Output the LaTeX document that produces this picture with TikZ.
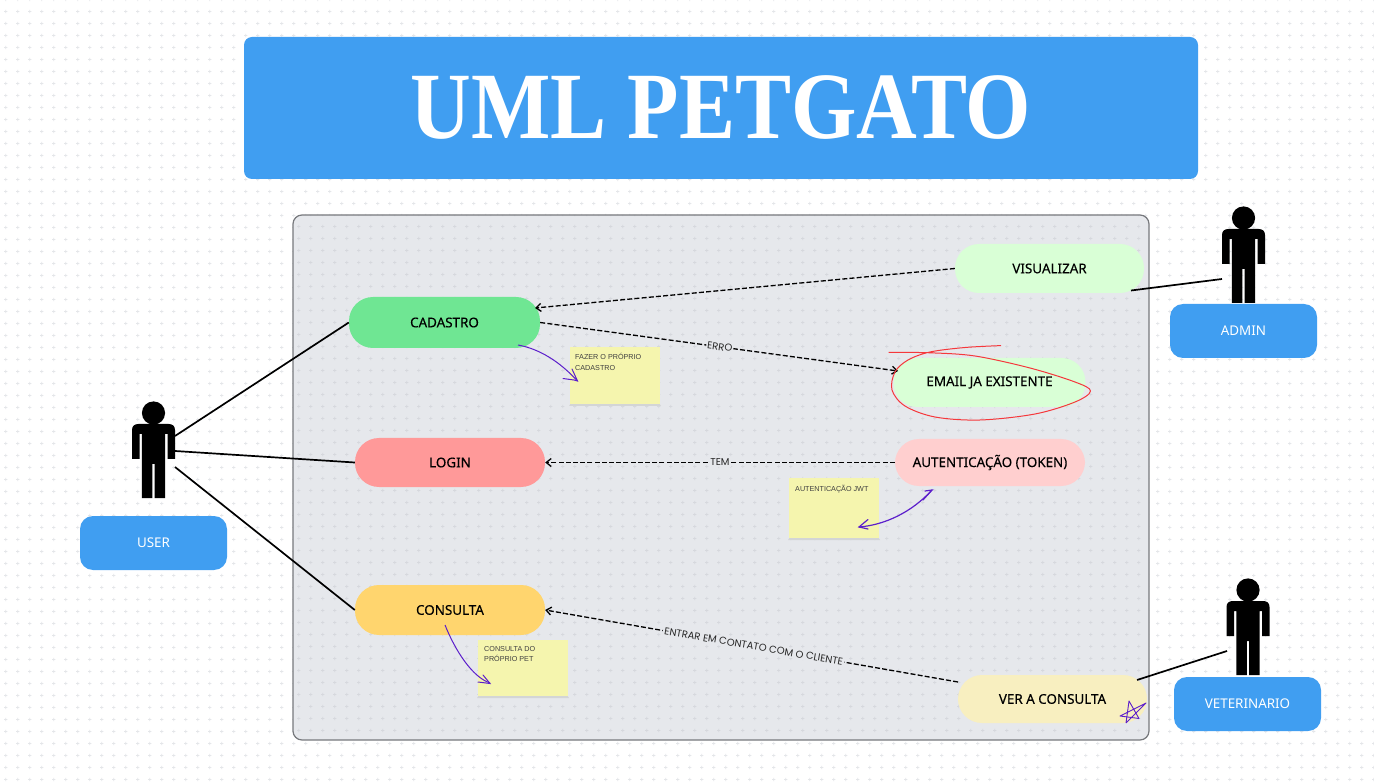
\documentclass[tikz,border=0pt]{standalone}
\usepackage{fontspec}
\setmainfont{Noto Sans}
\newfontfamily\titlefont{Liberation Serif}
\newfontfamily\notefont{Liberation Sans}
\newfontfamily\edgefont{Poppins}
\usetikzlibrary{arrows.meta,patterns}
\pgfdeclarepatternformonly{plusgrid}{\pgfqpoint{0pt}{0pt}}{\pgfqpoint{12.21pt}{12.2pt}}{\pgfqpoint{12.21pt}{12.2pt}}{%
  \pgfsetlinewidth{.8pt}%
  \pgfpathmoveto{\pgfqpoint{5.5pt}{4.8pt}}\pgfpathlineto{\pgfqpoint{8.9pt}{4.8pt}}%
  \pgfpathmoveto{\pgfqpoint{7.2pt}{3.1pt}}\pgfpathlineto{\pgfqpoint{7.2pt}{6.5pt}}%
  \pgfusepath{stroke}}
\definecolor{bluebox}{HTML}{409EF1}
\definecolor{panelfill}{HTML}{E6E8EC}
\definecolor{panelline}{HTML}{77797D}
\definecolor{gridout}{HTML}{E4E6E9}
\definecolor{gridin}{HTML}{D6D8DD}
\definecolor{cgreen}{HTML}{D9FFD6}
\definecolor{cmint}{HTML}{6FE693}
\definecolor{cred}{HTML}{FF9999}
\definecolor{cpink}{HTML}{FFCFCF}
\definecolor{cyellow}{HTML}{FFD56E}
\definecolor{ccream}{HTML}{F8EFC0}
\definecolor{cnote}{HTML}{F5F5AE}
\definecolor{cshadow}{HTML}{D3D5D6}
\definecolor{cpurple}{HTML}{5C1FCB}
\definecolor{credline}{HTML}{F5383C}
\tikzset{
  x=1pt,y=-1pt,
  pill/.style={minimum width=#1,minimum height=49pt,inner sep=0pt,rounded corners=24pt,font=\fontsize{13.4}{15}\selectfont\addfontfeatures{FakeBold=0.25}},
  rolebox/.style={fill=bluebox,minimum width=147pt,minimum height=54pt,inner sep=0pt,rounded corners=13pt,text=white,font=\fontsize{13.4}{15}\selectfont\bfseries},
  stickynote/.style={fill=cnote,minimum width=90pt,inner sep=0pt,anchor=north west},
  notetext/.style={anchor=north west,align=left,inner sep=0pt,font=\notefont\fontsize{7.2}{10.2}\selectfont,text=black!75},
  actorline/.style={draw=black,line width=1.7pt},
  dashlink/.style={draw=black,line width=1.3pt,dash pattern=on 5pt off 2.2pt,-{Straight Barb[length=5pt,width=8pt,line width=1.3pt]}},
  edgelabel/.style={fill=panelfill,inner sep=1.5pt,font=\edgefont\fontsize{10}{12}\selectfont,text=black!85},
  inkarrow/.style={draw=cpurple,line width=1pt},
  actor/.pic={
    \fill[black] (0,0) circle[radius=11.6];
    \fill[black] (-21.5,46) -- (-21.5,17) .. controls (-21.5,13) and (-19,11) .. (-15,11)
      -- (15,11) .. controls (19,11) and (21.5,13) .. (21.5,17) -- (21.5,46) -- (14,46) -- (14,21)
      -- (11.6,21) -- (11.6,85) -- (1.2,85) -- (1.2,51) -- (-1.2,51) -- (-1.2,85) -- (-11.6,85)
      -- (-11.6,21) -- (-14,21) -- (-14,46) -- cycle;
  }
}
\begin{document}
\begin{tikzpicture}
\useasboundingbox (0,0) rectangle (1374,783);
\fill[white] (0,0) rectangle (1374,783);
\fill[pattern=plusgrid,pattern color=gridout] (0,0) rectangle (1374,783);

\node[fill=bluebox,minimum width=954pt,minimum height=142pt,rounded corners=8pt,inner sep=0pt] (title) at (721,108) {};
\node[text=white,inner sep=0pt,xscale=.885,font=\titlefont\fontsize{95}{95}\selectfont\bfseries] (titletext) at (721,108) {UML PETGATO};

\fill[panelfill,rounded corners=9pt] (293,215) rectangle (1149,740);
\fill[pattern=plusgrid,pattern color=gridin,rounded corners=9pt] (293,215) rectangle (1149,740);
\node[draw=panelline,line width=1.2pt,minimum width=856pt,minimum height=525pt,rounded corners=9pt,inner sep=0pt] (panel) at (721,477.5) {};

% use cases
\node[pill=189pt,fill=cgreen] (vis) at (1049.5,268.5) {VISUALIZAR};
\node[pill=191pt,fill=cmint,minimum height=51pt] (cad) at (444.5,322.5) {CADASTRO};
\node[pill=192pt,fill=cgreen] (email) at (989.5,382.5) {EMAIL JA EXISTENTE};
\node[pill=190pt,fill=cred] (login) at (450,462.5) {LOGIN};
\node[pill=190pt,fill=cpink,minimum height=47pt] (aut) at (990,462.5) {AUTENTICAÇÃO (TOKEN)};
\node[pill=190pt,fill=cyellow,minimum height=50pt] (cons) at (450,610) {CONSULTA};
\node[pill=189pt,fill=ccream,minimum height=48pt] (ver) at (1052.5,699) {VER A CONSULTA};

% sticky notes
\fill[cshadow] (571,403) -- (659,403) -- (661,406) -- (569,406) -- cycle;
\fill[cshadow] (790,537) -- (878,537) -- (880,540) -- (788,540) -- cycle;
\fill[cshadow] (479,695) -- (567,695) -- (569,698) -- (477,698) -- cycle;
\node[stickynote,minimum height=57pt] (noteA) at (570,347) {};
\node[stickynote,minimum height=60pt] (noteB) at (789,478) {};
\node[stickynote,minimum height=56pt] (noteC) at (478,640) {};
\node[notetext] (noteAt) at (575,353.5) {FAZER O PRÓPRIO\\CADASTRO};
\node[notetext] (noteBt) at (795,485) {AUTENTICAÇÃO JWT};
\node[notetext] (noteCt) at (484,646) {CONSULTA DO\\PRÓPRIO PET};

% actors
\pic (uactor) at (153.5,413) {actor};
\pic (aactor) at (1243.5,218) {actor};
\pic (vactor) at (1248,590) {actor};
\node[rolebox] (user) at (153.5,543) {USER};
\node[rolebox] (admin) at (1243.5,331) {ADMIN};
\node[rolebox] (vet) at (1247.5,704) {VETERINARIO};

% ports
\coordinate (uA) at (175,436);
\coordinate (uB) at (175,451);
\coordinate (uC) at (175,467);
\coordinate (aP) at (1222,279);
\coordinate (vP) at (1227,651);
\coordinate (visP) at (1131,290.5);
\coordinate (verP) at (1137,680);
\coordinate (cadIn) at (535,308);
\coordinate (emailIn) at (898,371);
\coordinate (verOut) at (958,682);
\coordinate (cadInk) at (518,345);
\coordinate (noteAink) at (577.5,381);
\coordinate (consInk) at (445,625);
\coordinate (noteCink) at (490,683);
\coordinate (autInk) at (932,490);
\coordinate (noteBink) at (859,527);

% solid connectors
\draw[actorline] (uA) -- (cad.west);
\draw[actorline] (uB) -- (login.west);
\draw[actorline] (uC) -- (cons.west);
\draw[actorline] (aP) -- (visP);
\draw[actorline] (vP) -- (verP);

% dashed connectors
\draw[dashlink] (vis.west) -- (cadIn);
\draw[dashlink] (cad.east) -- node[edgelabel,pos=.502,rotate=-7.8,inner sep=1pt] (lerro) {ERRO} (emailIn);
\draw[dashlink] (aut.west) -- node[edgelabel,pos=.5] (ltem) {TEM} (login.east);
\draw[dashlink] (verOut) -- node[edgelabel,pos=.495,rotate=-9.75] (lcontato) {ENTRAR EM CONTATO COM O CLIENTE} (cons.east);

% ink arrows
\draw[inkarrow] (cadInk) .. controls (540,349) and (560,362) .. (noteAink);
\draw[inkarrow,line cap=round] (563,378.5) -- (574,380) -- (noteAink) -- (572,369);
\draw[inkarrow] (consInk) .. controls (455,650) and (472,677) .. (noteCink);
\draw[inkarrow,line cap=round] (478,682) -- (490,683.5) -- (483,675);
\draw[inkarrow,line width=1.2pt] (noteBink) .. controls (885,525) and (912,512) .. (autInk);
\draw[inkarrow,line width=1.2pt,line cap=round] (868,519.5) -- (noteBink) -- (868,529);
\draw[inkarrow,line width=1.2pt,line cap=round] (925,491) -- (autInk) -- (923,500);

% star scribble
\draw[cpurple,line width=.9pt,line join=round] (1126,723) -- (1129,701) -- (1139,718.5) -- (1120,716) -- (1146,703) -- (1126,723);

% red scribble
\draw[credline,line width=1pt,line join=round] plot[smooth,tension=.55] coordinates {
 (888.5,352.3) (930,352.8) (975,356) (1030,368) (1075,382) (1090.5,391) (1075,402) (1035,414) (980,420)
 (935,417) (905,406) (892,390) (895,372) (908,360) (930,352) (965,347.5) (1001,345.6)};
\end{tikzpicture}
\end{document}
